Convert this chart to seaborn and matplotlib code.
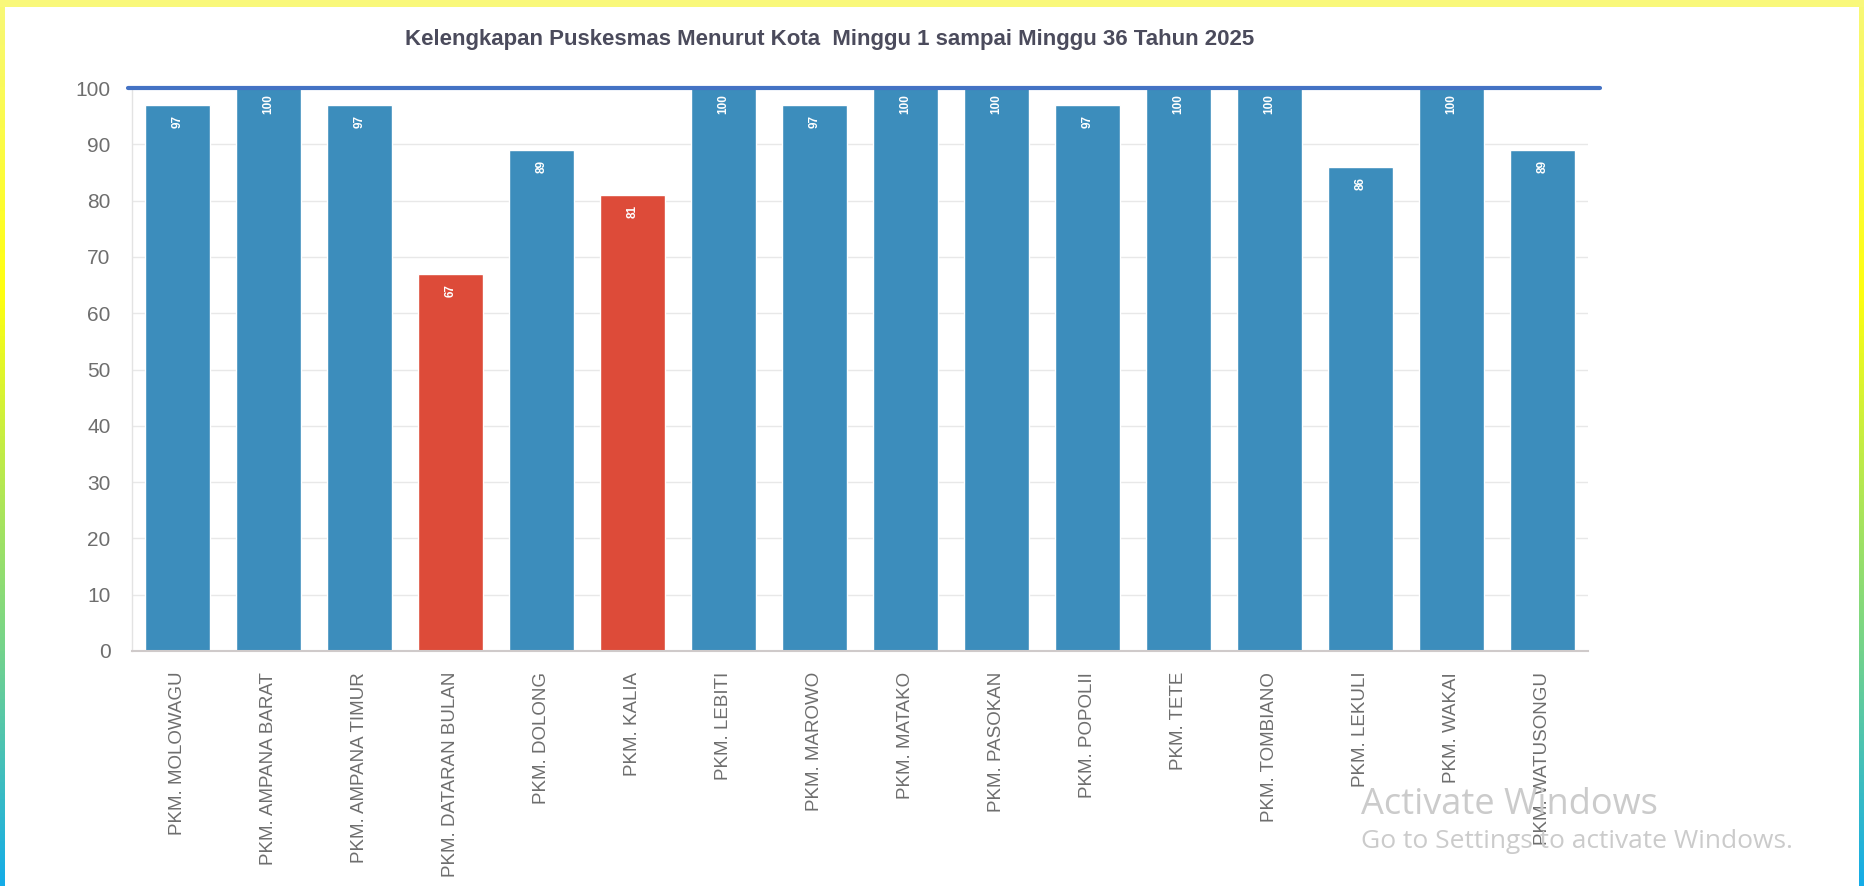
import matplotlib
matplotlib.use("Agg")
import matplotlib.pyplot as plt
from matplotlib.colors import LinearSegmentedColormap
import numpy as np
import seaborn as sns

# === data ===
puskesmas = ["PKM. MOLOWAGU", "PKM. AMPANA BARAT", "PKM. AMPANA TIMUR", "PKM. DATARAN BULAN",
             "PKM. DOLONG", "PKM. KALIA", "PKM. LEBITI", "PKM. MAROWO", "PKM. MATAKO",
             "PKM. PASOKAN", "PKM. POPOLII", "PKM. TETE", "PKM. TOMBIANO", "PKM. LEKULI",
             "PKM. WAKAI", "PKM. WATUSONGU"]
kelengkapan = [97, 100, 97, 67, 89, 81, 100, 97, 100, 100, 97, 100, 100, 86, 100, 89]
target = 100
batas_merah = 85
y_ticks = list(range(0, 101, 10))
judul = "Kelengkapan Puskesmas Menurut Kota  Minggu 1 sampai Minggu 36 Tahun 2025"

BLUE = "#3c8dbc"
RED = "#dd4b39"
colors = [RED if v < batas_merah else BLUE for v in kelengkapan]

# === style ===
sns.set_style("white")
plt.rcParams["font.family"] = ["Liberation Sans", "DejaVu Sans"]

W, H = 1864, 886
fig = plt.figure(figsize=(W / 100, H / 100), dpi=100)
fig.patch.set_facecolor("white")

ax = fig.add_axes([132 / W, (H - 651) / H, (1588 - 132) / W, (651 - 88) / H])

sns.barplot(x=puskesmas, y=kelengkapan, hue=puskesmas, palette=colors, legend=False,
            width=0.71, saturation=1, ax=ax, zorder=2)

ax.set_ylim(0, 100)
ax.set_xlim(-0.5, len(puskesmas) - 0.5)
ax.set_yticks(y_ticks)
ax.grid(axis="y", color="#e8e8e8", linewidth=1, zorder=0)
ax.set_axisbelow(True)

for s in ["top", "right"]:
    ax.spines[s].set_visible(False)
ax.spines["left"].set_color("#e3e3e3")
ax.spines["left"].set_linewidth(1)
ax.spines["bottom"].set_color("#cfcaca")
ax.spines["bottom"].set_linewidth(1.5)

ax.tick_params(axis="y", length=14.4, width=1, color="#e8e8e8", pad=1,
               labelsize=15, labelcolor="#6e6e6e")
ax.tick_params(axis="x", length=0, pad=15, labelsize=13.5, labelcolor="#6e6e6e")
plt.setp(ax.get_xticklabels(), rotation=90, ha="center", va="top")
ax.set_xlabel("")
ax.set_ylabel("")

# label nilai di dalam batang
for i, v in enumerate(kelengkapan):
    ax.text(i, v - 2.9, f"{v}", rotation=90, ha="center", va="center",
            color="white", fontsize=8.5, fontweight="bold", zorder=4)

# garis target 100
ax.axhline(target, xmin=-0.0027, xmax=1.0082, color="#4472c4", linewidth=3,
           clip_on=False, zorder=5)

# judul
fig.text(830 / W, 1 - 40 / H, judul, ha="center", va="center", fontsize=16,
         fontweight="bold", color="#4b4b5c")

# watermark
fig.text(1361 / W, 1 - 805 / H, "Activate Windows", fontsize=26, color="#cbcbcb",
         family=["Open Sans", "DejaVu Sans"], va="center", ha="left")
fig.text(1361 / W, 1 - 841 / H, "Go to Settings to activate Windows.", fontsize=19,
         color="#cbcbcb", family=["Open Sans", "DejaVu Sans"], va="center", ha="left")

# bingkai gradasi
cmap = LinearSegmentedColormap.from_list(
    "frame", [(0, "#f8f878"), (0.33, "#ffff10"), (0.7, "#80d880"), (1, "#14ace8")])
grad = np.linspace(0, 1, 256)[:, None]
for x0 in (0, W - 5):
    sx = fig.add_axes([x0 / W, 0, 5 / W, 1])
    sx.imshow(grad, aspect="auto", cmap=cmap)
    sx.axis("off")
top = fig.add_axes([0, 1 - 7 / H, 1, 7 / H])
top.set_facecolor("#f9f87a")
top.set_xticks([])
top.set_yticks([])
for s in top.spines.values():
    s.set_visible(False)

fig.savefig("out.png", dpi=100)
